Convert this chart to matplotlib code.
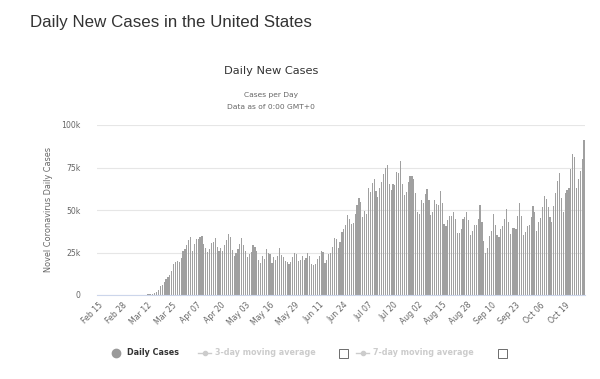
import numpy as np
import pandas as pd
import matplotlib
matplotlib.use("Agg")
import matplotlib.pyplot as plt
from matplotlib.lines import Line2D
from matplotlib.patches import Rectangle

# daily new cases (Feb 15 .. Oct 29, 2020)
feb = [0, 0, 0, 0, 0, 0, 1, 0, 0, 0, 0, 0, 2, 4, 10]
mar = [20, 23, 25, 32, 70, 80, 98, 115, 175, 290, 270, 450, 550, 710, 810,
       1100, 1800, 2900, 5300, 5900, 7600, 9600, 10500, 11800, 14000, 18000,
       19300, 20000, 19400, 21700, 26100]
apr = [27000, 29600, 32600, 33900, 25800, 30000, 33000, 33100, 34300, 34500,
       29800, 27800, 25500, 27000, 30500, 31000, 33300, 28500, 25900, 27600,
       26100, 29700, 32100, 36000, 33900, 26500, 23100, 24800, 27300, 30000]
may = [33500, 29200, 25600, 22300, 24300, 25500, 29200, 28400, 25600, 20300,
       18600, 22800, 21200, 27200, 25000, 24000, 18800, 22400, 20800, 22900,
       27700, 23500, 22300, 19800, 19500, 18000, 19300, 22200, 24700, 24200, 20200]
jun = [20800, 22800, 20300, 21800, 24900, 22800, 18400, 17600, 18200, 21300,
       23000, 26100, 25400, 19000, 20700, 24300, 24900, 28100, 33500, 32900,
       27800, 31400, 37200, 39100, 41200, 47300, 44700, 41600, 42500, 47900]
jul = [52900, 57200, 54700, 45900, 49700, 47800, 62900, 60500, 65600, 68300,
       61300, 57400, 62700, 66600, 71000, 74700, 76500, 65300, 61700, 65200,
       65000, 72500, 71500, 78900, 65500, 58900, 60400, 66600, 70200, 70000, 68500]
aug = [59800, 48700, 47500, 55800, 54000, 59500, 62500, 56000, 46900, 49000,
       55700, 53700, 52700, 61000, 54000, 42000, 40700, 43900, 46500, 46200,
       48600, 44600, 36400, 36700, 38700, 45000, 45800, 48600, 43900, 35100, 37600]
sep = [41300, 41300, 44600, 53200, 43100, 32000, 24600, 27700, 34700, 37600,
       47500, 40900, 35500, 34000, 38700, 40400, 44600, 50600, 42700, 35600,
       39200, 39400, 38600, 46600, 54300, 46200, 35200, 36900, 40500, 41400]
octo = [46000, 52500, 48600, 37600, 43000, 45500, 52000, 58400, 56700, 51500,
        46000, 43000, 52100, 59900, 67200, 71700, 56900, 49000, 60000, 62000,
        63000, 74300, 83000, 81000, 63000, 68000, 73000, 80000, 91000]

cases = feb + mar + apr + may + jun + jul + aug + sep + octo
dates = pd.date_range("2020-02-15", periods=len(cases), freq="D")
labels = [d.strftime("%b %d") for d in dates]

fig = plt.figure(figsize=(6, 3.79), dpi=100)
ax = fig.add_axes([97 / 600, 84 / 379, 488 / 600, 170 / 379])

x = np.arange(len(cases))
ax.bar(x, cases, width=0.62, color="#a0a0a0", linewidth=0)

ax.set_xlim(-0.5, len(cases) - 0.5)
ax.set_ylim(0, 100000)
yt = [0, 25000, 50000, 75000, 100000]
ax.set_yticks(yt)
ax.set_yticklabels(["0", "25k", "50k", "75k", "100k"])
ax.yaxis.grid(True, color="#e6e6e6", linewidth=0.8)
ax.set_axisbelow(True)

tick_idx = list(range(0, len(cases), 13))
ax.set_xticks(tick_idx)
ax.set_xticklabels([labels[i] for i in tick_idx], rotation=45, ha="right",
                   va="top", rotation_mode="anchor")
for s in ["top", "right", "left"]:
    ax.spines[s].set_visible(False)
ax.spines["bottom"].set_color("#ccd6eb")
ax.tick_params(axis="both", length=0, labelsize=5.6, colors="#666666")
ax.tick_params(axis="y", pad=12)
ax.tick_params(axis="x", pad=4)
ax.set_ylabel("Novel Coronavirus Daily Cases", fontsize=5.9, color="#666666", labelpad=6)

# titles
fig.text(30 / 600, 1 - 22 / 379, "Daily New Cases in the United States",
         fontsize=12.2, color="#333333", va="center", ha="left", family="Liberation Sans")
fig.text(271 / 600, 1 - 71 / 379, "Daily New Cases", fontsize=8.2, color="#333333",
         ha="center", va="center")
fig.text(271 / 600, 1 - 95 / 379, "Cases per Day", fontsize=5.4, color="#666666",
         ha="center", va="center")
fig.text(271 / 600, 1 - 107 / 379, "Data as of 0:00 GMT+0", fontsize=5.4,
         color="#666666", ha="center", va="center")

# legend
ly = 1 - 352.5 / 379
fig.add_artist(Line2D([116 / 600], [ly], marker="o", markersize=6, color="#999999",
                      linestyle="none", transform=fig.transFigure))
fig.text(127 / 600, ly, "Daily Cases", fontsize=5.8, fontweight="bold",
         color="#333333", va="center")
for x0, txt, bx in [(198, "3-day moving average", 339), (356, "7-day moving average", 498)]:
    fig.add_artist(Line2D([x0 / 600, (x0 + 13) / 600], [ly, ly], color="#cccccc",
                          linewidth=1, transform=fig.transFigure))
    fig.add_artist(Line2D([(x0 + 6.5) / 600], [ly], color="#cccccc", marker="o",
                          markersize=3, linestyle="none", transform=fig.transFigure))
    fig.text((x0 + 17) / 600, ly, txt, fontsize=5.8, fontweight="bold",
             color="#cccccc", va="center")
    fig.add_artist(Rectangle((bx / 600, 1 - 358 / 379), 9 / 600, 9 / 379,
                             facecolor="white", edgecolor="#555555", linewidth=0.6,
                             transform=fig.transFigure))

fig.savefig("out.png", dpi=100)
